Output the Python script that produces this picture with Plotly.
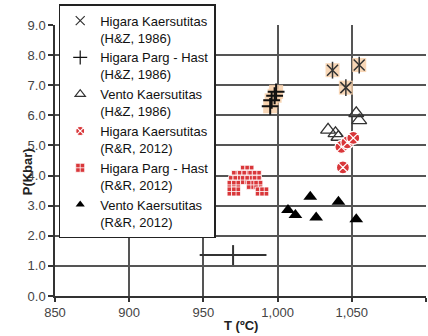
import plotly.graph_objects as go

# ---- data ----
hz_kaer_T = [1037, 1055, 1046]
hz_kaer_P = [7.50, 7.67, 6.92]

hz_parg_T = [999, 998, 996, 995]
hz_parg_P = [6.78, 6.65, 6.50, 6.30]

hz_vento_T = [1034, 1039, 1041, 1053, 1055]
hz_vento_P = [5.52, 5.40, 5.28, 6.07, 5.83]

rr_kaer_T = [1043, 1047, 1051, 1044]
rr_kaer_P = [4.95, 5.10, 5.25, 4.27]

rr_parg_T = [978, 981, 972, 976, 979, 983, 986, 970, 973, 978, 981, 986,
             969, 972, 982, 987, 969, 972, 988, 991]
rr_parg_P = [4.19, 4.19, 4.02, 4.02, 4.02, 4.02, 4.02, 3.85, 3.85, 3.85, 3.85, 3.85,
             3.69, 3.69, 3.69, 3.69, 3.47, 3.47, 3.47, 3.47]

rr_vento_T = [1022, 1041, 1007, 1012, 1026, 1053]
rr_vento_P = [3.30, 3.13, 2.86, 2.69, 2.61, 2.55]

err_T = [970]
err_P = [1.36]
err_dT = [22.5]
err_dP = [0.33]

x_ticks = [850, 900, 950, 1000, 1050, 1100]
y_ticks = [0, 1, 2, 3, 4, 5, 6, 7, 8, 9]

names = ["Higara Kaersutitas<br>(H&Z, 1986)",
         "Higara Parg - Hast<br>(H&Z, 1986)",
         "Vento Kaersutitas<br>(H&Z, 1986)",
         "Higara Kaersutitas<br>(R&R, 2012)",
         "Higara Parg - Hast<br>(R&R, 2012)",
         "Vento Kaersutitas<br>(R&R, 2012)"]

PEACH = "rgba(247,208,170,0.85)"
RED = "#d9373a"
DARK = "#333333"

# marker styles: (symbol, plot size, legend size, fill colour, line colour, line width)
styles = [
    ("x-thin-open", 11, 9, DARK, DARK, 1.5),
    ("cross-thin-open", 12, 10, "#111", "#111", 2),
    ("triangle-up-open", 13, 9, DARK, DARK, 1.3),
    ("circle-x", 13, 9, RED, "white", 1.2),
    ("square-cross", 9, 9, RED, "white", 0.8),
    ("triangle-up", 12, 8, "black", "black", 0),
]
series_T = [hz_kaer_T, hz_parg_T, hz_vento_T, rr_kaer_T, rr_parg_T, rr_vento_T]
series_P = [hz_kaer_P, hz_parg_P, hz_vento_P, rr_kaer_P, rr_parg_P, rr_vento_P]

fig = go.Figure()

# peach backgrounds behind the H&Z Higara points
fig.add_trace(go.Scatter(x=hz_kaer_T + hz_parg_T, y=hz_kaer_P + hz_parg_P, mode="markers",
                         marker=dict(symbol="square", size=14, color=PEACH, line=dict(width=0)),
                         showlegend=False, hoverinfo="skip"))

for i, (sym, size, lsize, col, lcol, lw) in enumerate(styles):
    fig.add_trace(go.Scatter(x=series_T[i], y=series_P[i], mode="markers", showlegend=False,
                             legendgroup=str(i),
                             marker=dict(symbol=sym, size=size, color=col, line=dict(color=lcol, width=lw))))
    if i == 0:
        fig.add_trace(go.Scatter(x=series_T[i], y=series_P[i], mode="markers", showlegend=False,
                                 marker=dict(symbol="line-ns-open", size=12, color=DARK,
                                             line=dict(color=DARK, width=1.5)),
                                 hoverinfo="skip"))
    # legend entry (smaller symbol, no data)
    fig.add_trace(go.Scatter(x=[None], y=[None], mode="markers", name=names[i], legendgroup=str(i),
                             marker=dict(symbol=sym, size=lsize, color=col,
                                         line=dict(color=lcol, width=min(lw, 1.2) if lw else 0))))

fig.add_trace(go.Scatter(x=err_T, y=err_P, mode="markers", showlegend=False,
                         marker=dict(size=1, color="rgba(0,0,0,0)"),
                         error_x=dict(type="data", array=err_dT, color=DARK, thickness=2, width=0),
                         error_y=dict(type="data", array=err_dP, color=DARK, thickness=2, width=0)))

fig.update_layout(
    width=428, height=336,
    margin=dict(l=55, r=2, t=25, b=40, autoexpand=False),
    paper_bgcolor="white", plot_bgcolor="white",
    font=dict(family="Liberation Sans, Arial, sans-serif", size=13, color="#333"),
    showlegend=True,
    legend=dict(x=0.01, y=1.077, xanchor="left", yanchor="top",
                bgcolor="white", bordercolor="#222", borderwidth=1.5,
                font=dict(size=13, color="#111"), valign="top",
                tracegroupgap=0, itemsizing="trace", maxheight=300),
    annotations=[
        dict(text="<b>P(Kbar)</b>", textangle=-90, x=-0.1, y=0.458, xref="paper", yref="paper",
             showarrow=False, font=dict(size=13, color="#222")),
        dict(text="<b>T (ºC)</b>", x=0.5, y=-0.108, xref="paper", yref="paper",
             showarrow=False, yanchor="middle", font=dict(size=13, color="#222")),
    ],
)

fig.update_xaxes(range=[850, 1100], tickvals=x_ticks, tickformat=",d",
                 showgrid=True, gridcolor="#555", gridwidth=1.5,
                 showline=True, linecolor="#333", linewidth=1.5,
                 ticks="outside", ticklen=4, tickcolor="#333", tickwidth=1.5,
                 zeroline=False, tickfont=dict(size=13, color="#444"))
fig.update_yaxes(range=[0, 9], tickvals=y_ticks, tickformat=".1f",
                 showgrid=True, gridcolor="#555", gridwidth=1.5,
                 showline=True, linecolor="#333", linewidth=1.5,
                 ticks="outside", ticklen=5, tickcolor="#333", tickwidth=1.5,
                 zeroline=False, tickfont=dict(size=13, color="#444"))

fig.write_html("out.html", config={"displayModeBar": False},
               post_script="document.body.style.margin='0';")
